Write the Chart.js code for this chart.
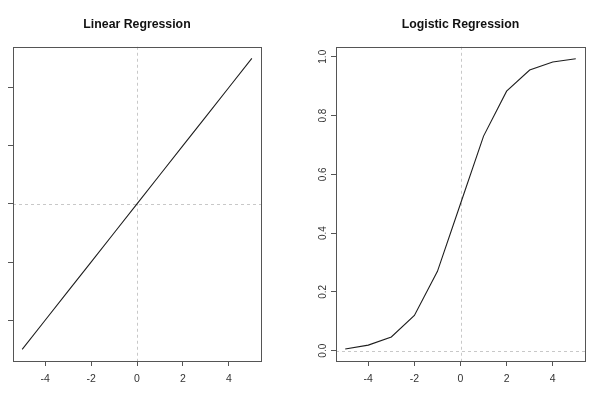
<!DOCTYPE html>
<html>
<head>
<meta charset="utf-8">
<script src="https://cdn.jsdelivr.net/npm/chart.js@4"></script>
<style>
  html, body { margin: 0; padding: 0; background: #fff; }
  .panel { position: absolute; top: 0; width: 300px; height: 396px; }
  #leftPanel { left: 0; }
  #rightPanel { left: 300px; }
</style>
</head>
<body>
<div class="panel" id="leftPanel"><canvas id="linearChart"></canvas></div>
<div class="panel" id="rightPanel"><canvas id="logisticChart"></canvas></div>
<script>
// data
const xValues = [-5, -4, -3, -2, -1, 0, 1, 2, 3, 4, 5];
const linearY = [-5, -4, -3, -2, -1, 0, 1, 2, 3, 4, 5];
const logisticY = [0.006, 0.019, 0.047, 0.12, 0.27, 0.5, 0.73, 0.883, 0.955, 0.982, 0.993];
const xTicks = [-4, -2, 0, 2, 4];
const linearYTicks = [-4, -2, 0, 2, 4];
const logisticYTicks = [0.0, 0.2, 0.4, 0.6, 0.8, 1.0];

Chart.defaults.font.family = "'Liberation Sans', Arial, Helvetica, sans-serif";
Chart.defaults.color = '#333';

const boxColor = '#555';

// R style box around plot + dotted lines through zero
const rPlot = {
    id: 'rPlot',
    beforeDatasetsDraw(chart) {
        const { ctx, chartArea: a, scales } = chart;
        const x0 = Math.round(scales.x.getPixelForValue(0)) + 0.5;
        const y0 = Math.round(scales.y.getPixelForValue(0)) + 0.5;
        ctx.save();
        ctx.strokeStyle = '#c8c8c8';
        ctx.lineWidth = 1;
        ctx.setLineDash([3, 3]);
        ctx.beginPath();
        ctx.moveTo(x0, a.top); ctx.lineTo(x0, a.bottom);
        ctx.moveTo(a.left, y0); ctx.lineTo(a.right, y0);
        ctx.stroke();
        ctx.restore();
    },
    afterDraw(chart) {
        const { ctx, chartArea: a } = chart;
        ctx.save();
        ctx.strokeStyle = boxColor;
        ctx.lineWidth = 1;
        ctx.strokeRect(Math.round(a.left) + 0.5, Math.round(a.top) + 0.5,
                       Math.round(a.right - a.left), Math.round(a.bottom - a.top));
        ctx.restore();
    }
};

// yWidth / padRight put the plot box where the reference has it;
// title is not fullSize so it centres over the box like R does
function makeChart(id, title, ys, yMin, yMax, yTicks, yWidth, padRight, showYLabels) {
    return new Chart(document.getElementById(id), {
        type: 'scatter',
        data: {
            datasets: [{
                data: xValues.map((x, i) => ({ x: x, y: ys[i] })),
                showLine: true,
                borderColor: '#1e1e1e',
                borderWidth: 1.1,
                pointRadius: 0,
                tension: 0
            }]
        },
        options: {
            responsive: true,
            maintainAspectRatio: false,
            animation: false,
            layout: { padding: { left: 0, right: padRight, top: 0, bottom: 0 } },
            plugins: {
                legend: { display: false },
                tooltip: { enabled: false },
                title: {
                    display: true,
                    fullSize: false,
                    text: title,
                    color: '#111',
                    font: { size: 12.3, weight: 'bold' },
                    padding: { top: 17, bottom: 15 }
                }
            },
            scales: {
                x: {
                    type: 'linear',
                    min: -5.4,
                    max: 5.4,
                    afterBuildTicks: s => { s.ticks = xTicks.map(v => ({ value: v })); },
                    afterFit: s => { s.height = 35; },
                    border: { display: false },
                    grid: { drawOnChartArea: false, drawTicks: true, tickLength: 5, tickColor: boxColor },
                    ticks: { font: { size: 10.5 }, color: '#333', padding: 7, maxRotation: 0 }
                },
                y: {
                    type: 'linear',
                    min: yMin,
                    max: yMax,
                    afterBuildTicks: s => { s.ticks = yTicks.map(v => ({ value: v })); },
                    afterFit: s => { s.width = yWidth; },
                    border: { display: false },
                    grid: { drawOnChartArea: false, drawTicks: true, tickLength: 5, tickColor: boxColor },
                    ticks: {
                        display: showYLabels,
                        font: { size: 10 },
                        color: '#333',
                        padding: 1,
                        minRotation: 90,
                        maxRotation: 90,
                        crossAlign: 'center',
                        callback: v => v.toFixed(1)
                    }
                }
            }
        },
        plugins: [rPlot]
    });
}

makeChart('linearChart', 'Linear Regression', linearY, -5.4, 5.4, linearYTicks, 13, 39, false);
makeChart('logisticChart', 'Logistic Regression', logisticY, -0.035, 1.034, logisticYTicks, 36, 15, true);
</script>
</body>
</html>
